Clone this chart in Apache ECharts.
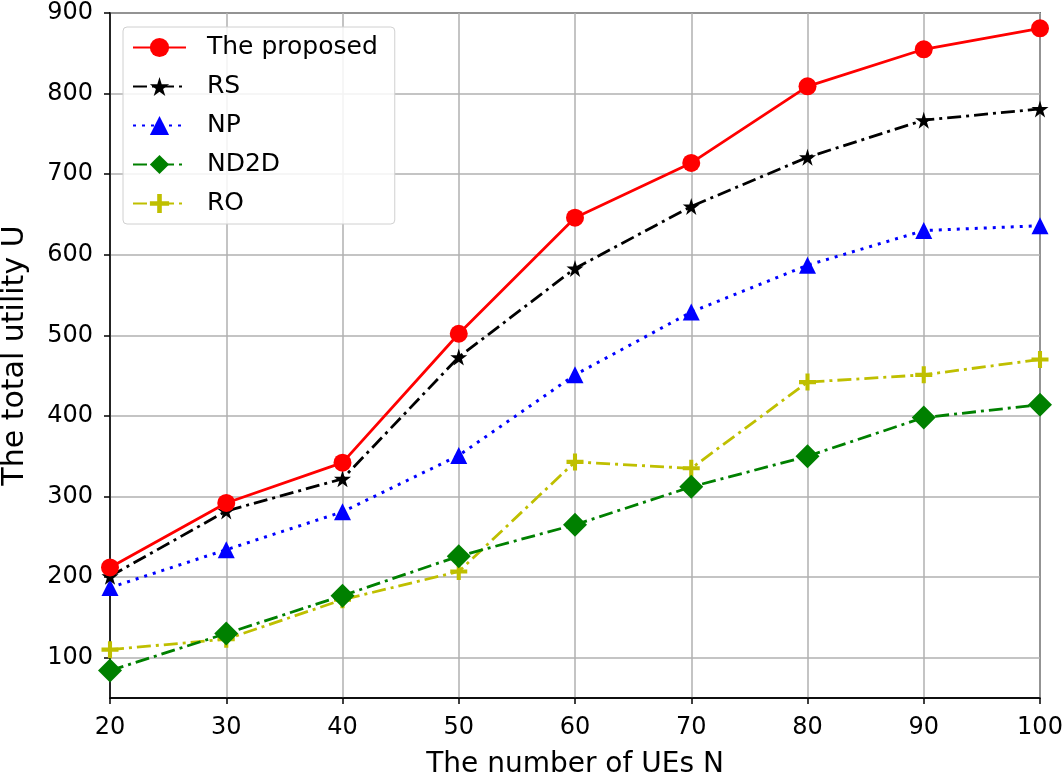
<!DOCTYPE html>
<html>
<head>
<meta charset="utf-8">
<script src="https://cdn.jsdelivr.net/npm/echarts@6/dist/echarts.min.js"></script>
<style>
html,body{margin:0;padding:0;background:#fff;}
#chart{width:1062px;height:775px;}
</style>
</head>
<body>
<div id="chart"></div>
<script>
const xValues = [20, 30, 40, 50, 60, 70, 80, 90, 100];
const proposed = [212, 292, 342, 502, 646, 714, 809, 855, 881];
const rs = [201, 282, 322, 473, 583, 660, 721, 767, 781];
const np = [187, 234, 281, 351, 451, 529, 587, 630, 636];
const nd2d = [84, 130, 177, 226, 265, 312, 350, 398, 414];
const ro = [110, 123, 172, 207, 343, 335, 442, 451, 470];
const seriesNames = ['The proposed', 'RS', 'NP', 'ND2D', 'RO'];
const yTicks = [100, 200, 300, 400, 500, 600, 700, 800, 900];

const pairs = arr => xValues.map((x, i) => [x, arr[i]]);
const starPath = 'path://M50,0 L61,35 L98,35 L68,57 L79,91 L50,70 L21,91 L32,57 L2,35 L39,35 Z';
const plusPath = 'path://M38,0 H62 V38 H100 V62 H62 V100 H38 V62 H0 V38 H38 Z';

const chart = echarts.init(document.getElementById('chart'));
const tickFont = {color: '#000', fontSize: 24, fontFamily: 'DejaVu Sans'};
chart.setOption({
  animation: false,
  backgroundColor: '#fff',
  grid: {left: 110, right: 22, top: 13, bottom: 77, containLabel: false, outerBoundsMode: 'none',
         show: true, borderColor: '#000', borderWidth: 1.5, backgroundColor: 'transparent'},
  legend: {
    orient: 'vertical', left: 123, top: 27,
    itemWidth: 53, itemHeight: 24, itemGap: 14,
    padding: [8, 17, 8, 9],
    backgroundColor: 'rgba(255,255,255,0.85)', borderColor: '#d0d0d0', borderWidth: 1, borderRadius: 4,
    textStyle: {fontSize: 25, fontFamily: 'DejaVu Sans', color: '#000', padding: [0, 0, 0, 16]},
    data: seriesNames
  },
  xAxis: {
    type: 'value', min: 20, max: 100, interval: 10,
    name: 'The number of UEs N', nameLocation: 'middle', nameGap: 53,
    nameTextStyle: {fontSize: 28, fontFamily: 'DejaVu Sans', color: '#000'},
    axisLine: {lineStyle: {color: '#000', width: 1.5}},
    axisTick: {show: true, length: 6, lineStyle: {color: '#000', width: 1.5}},
    axisLabel: Object.assign({margin: 18}, tickFont),
    splitLine: {show: true, lineStyle: {color: '#b0b0b0', width: 1.5}}
  },
  yAxis: {
    type: 'value', min: 50, max: 900,
    customValues: yTicks,
    axisLabel: Object.assign({margin: 17, customValues: yTicks}, tickFont),
    axisTick: {show: true, length: 6, customValues: yTicks, lineStyle: {color: '#000', width: 1.5}},
    name: 'The total utility U', nameLocation: 'middle', nameGap: 80, nameRotate: 90,
    nameTextStyle: {fontSize: 30, fontFamily: 'DejaVu Sans', color: '#000'},
    axisLine: {show: true, lineStyle: {color: '#000', width: 1.5}},
    splitLine: {show: true, lineStyle: {color: '#b0b0b0', width: 1.5}}
  },
  series: [
    {name: seriesNames[0], type: 'line', data: pairs(proposed), symbol: 'circle', symbolSize: 18,
     lineStyle: {color: '#ff0000', width: 2.8, type: 'solid'}, itemStyle: {color: '#ff0000'}, z: 6},
    {name: seriesNames[1], type: 'line', data: pairs(rs), symbol: starPath, symbolSize: 17,
     lineStyle: {color: '#000', width: 2.8, type: [14, 5, 3, 5]}, itemStyle: {color: '#000'}, z: 5},
    {name: seriesNames[2], type: 'line', data: pairs(np), symbol: 'triangle', symbolSize: 17,
     lineStyle: {color: '#0000ff', width: 3, type: [3, 6]}, itemStyle: {color: '#0000ff'}, z: 4},
    {name: seriesNames[3], type: 'line', data: pairs(nd2d), symbol: 'diamond', symbolSize: 24,
     lineStyle: {color: '#008000', width: 2.8, type: [14, 5, 3, 5]}, itemStyle: {color: '#008000'}, z: 3},
    {name: seriesNames[4], type: 'line', data: pairs(ro), symbol: plusPath, symbolSize: 17,
     lineStyle: {color: '#bfbf00', width: 2.8, type: [14, 5, 3, 5]}, itemStyle: {color: '#bfbf00'}, z: 2}
  ]
});
</script>
</body>
</html>
